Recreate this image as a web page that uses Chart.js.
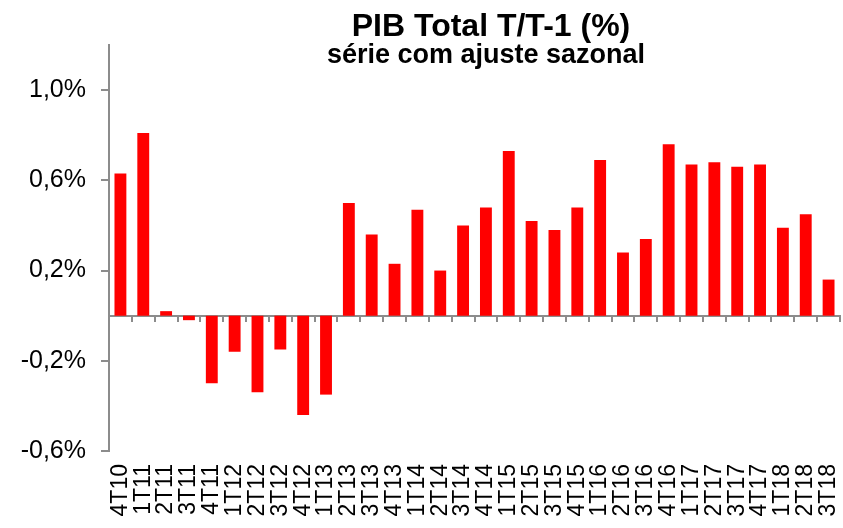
<!DOCTYPE html>
<html>
<head>
<meta charset="utf-8">
<script src="https://cdn.jsdelivr.net/npm/chart.js@4"></script>
<style>
  html, body { margin: 0; padding: 0; background: #fff; }
  #wrap { width: 843px; height: 528px; }
</style>
</head>
<body>
<div id="wrap"><canvas id="chart"></canvas></div>
<script>
const quarters = ['4T10', '1T11', '2T11', '3T11', '4T11', '1T12', '2T12', '3T12', '4T12', '1T13',
    '2T13', '3T13', '4T13', '1T14', '2T14', '3T14', '4T14', '1T15', '2T15', '3T15', '4T15',
    '1T16', '2T16', '3T16', '4T16', '1T17', '2T17', '3T17', '4T17', '1T18', '2T18', '3T18'];
const pibQoQ = [0.63, 0.81, 0.02, -0.02, -0.30, -0.16, -0.34, -0.15, -0.44, -0.35,
    0.50, 0.36, 0.23, 0.47, 0.20, 0.40, 0.48, 0.73, 0.42, 0.38, 0.48,
    0.69, 0.28, 0.34, 0.76, 0.67, 0.68, 0.66, 0.67, 0.39, 0.45, 0.16];
const yTicks = [-0.6, -0.2, 0.2, 0.6, 1.0];
const chartTitle = 'PIB Total T/T-1 (%)';
const chartSubtitle = 'série com ajuste sazonal';

const axisGray = '#8c8c8c';
const fontFamily = '"Liberation Sans", Arial, sans-serif';

// title sits over the plot area, so draw it by hand instead of using the title box
const titlePlugin = {
    id: 'overlayTitle',
    afterDraw(chart) {
        const ctx = chart.ctx;
        ctx.save();
        ctx.fillStyle = '#000';
        ctx.textAlign = 'center';
        ctx.textBaseline = 'alphabetic';
        ctx.font = 'bold 32px ' + fontFamily;
        ctx.fillText(chartTitle, 491, 36);
        ctx.font = 'bold 27px ' + fontFamily;
        ctx.fillText(chartSubtitle, 486, 63);
        ctx.restore();
    }
};

new Chart(document.getElementById('chart'), {
    type: 'bar',
    data: {
        labels: quarters,
        datasets: [{
            data: pibQoQ,
            backgroundColor: '#ff0000',
            borderWidth: 0,
            categoryPercentage: 1,
            barPercentage: 0.52,
            xAxisID: 'x',
            yAxisID: 'y'
        }]
    },
    options: {
        responsive: true,
        maintainAspectRatio: false,
        animation: false,
        layout: { padding: { top: 45, right: 3, left: 0, bottom: 0 } },
        plugins: {
            legend: { display: false },
            tooltip: { enabled: false },
            title: { display: false }
        },
        scales: {
            x: {
                type: 'category',
                position: 'bottom',
                offset: true,
                grid: { display: false },
                border: { display: false },
                ticks: {
                    autoSkip: false,
                    minRotation: 90,
                    maxRotation: 90,
                    padding: 5,
                    color: '#000',
                    font: { family: fontFamily, size: 23 }
                },
                afterFit(scale) {
                    scale.height = 77;
                    scale.paddingLeft = 0;
                    scale.paddingRight = 0;
                }
            },
            x2: {
                type: 'category',
                labels: quarters,
                position: { y: 0 },
                offset: true,
                grid: {
                    offset: true,
                    drawOnChartArea: false,
                    drawTicks: true,
                    tickLength: 5,
                    color: axisGray,
                    lineWidth: 2
                },
                border: { display: true, color: axisGray, width: 2 },
                ticks: { display: false }
            },
            y: {
                type: 'linear',
                position: 'left',
                min: -0.6,
                max: 1.2,
                afterBuildTicks(scale) {
                    scale.ticks = yTicks.map(v => ({ value: v }));
                },
                afterFit(scale) {
                    scale.width = 109;
                },
                grid: {
                    drawOnChartArea: false,
                    drawTicks: true,
                    tickLength: 8,
                    color: axisGray,
                    lineWidth: 2
                },
                border: { display: true, color: axisGray, width: 2 },
                ticks: {
                    padding: 15,
                    color: '#000',
                    font: { family: fontFamily, size: 25 },
                    callback: v => v.toFixed(1).replace('.', ',') + '%'
                }
            }
        }
    },
    plugins: [titlePlugin]
});
</script>
</body>
</html>
